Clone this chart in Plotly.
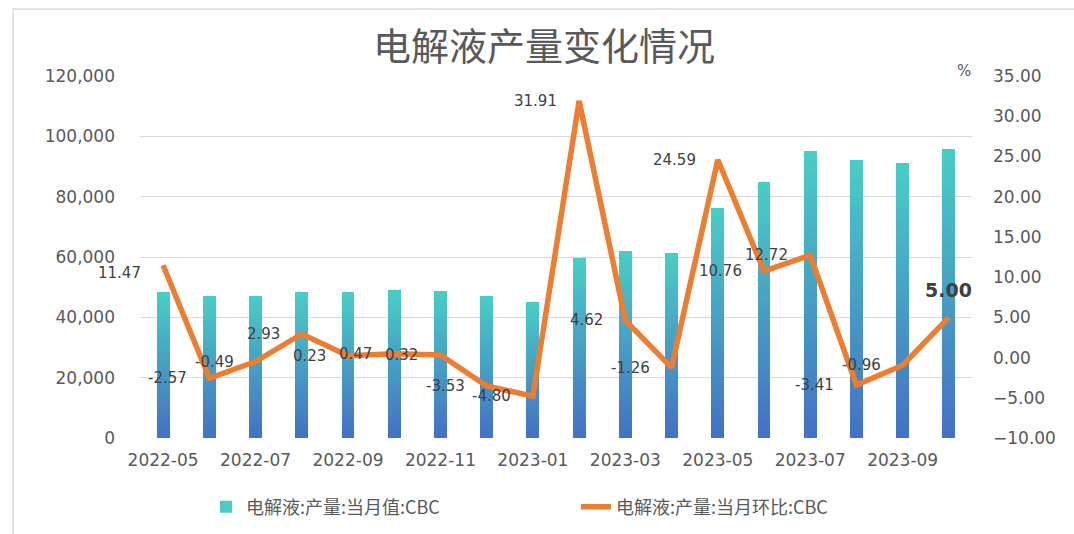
import plotly.graph_objects as go

months = ["2022-05", "2022-06", "2022-07", "2022-08", "2022-09", "2022-10",
          "2022-11", "2022-12", "2023-01", "2023-02", "2023-03", "2023-04",
          "2023-05", "2023-06", "2023-07", "2023-08", "2023-09", "2023-10"]
output = [48400, 47200, 47200, 48400, 48300, 49100, 48700, 47200, 45100,
          59700, 62000, 61400, 76200, 84700, 95300, 92100, 91000, 95800]
mom = [11.47, -2.57, -0.49, 2.93, 0.23, 0.47, 0.32, -3.53, -4.80,
       31.91, 4.62, -1.26, 24.59, 10.76, 12.72, -3.41, -0.96, 5.00]
tick_months = months[::2]

bar_name = "电解液:产量:当月值:CBC"
line_name = "电解液:产量:当月环比:CBC"
title = "电解液产量变化情况"

FONT = "DejaVu Sans"
CJK = "Noto Sans CJK SC"
GREY = "#595959"

top_rgb = (72, 204, 198)
bot_rgb = (68, 114, 196)
N = 30

fig = go.Figure()
for k in range(N):
    t = k / (N - 1)
    c = tuple(round(bot_rgb[i] + (top_rgb[i] - bot_rgb[i]) * t) for i in range(3))
    fig.add_trace(go.Bar(
        x=months, y=[v / N for v in output],
        marker=dict(color="rgb(%d,%d,%d)" % c, line=dict(width=0)),
        width=0.28, name=bar_name, showlegend=(k == N - 1),
        legendrank=1, hoverinfo="skip", yaxis="y"))

fig.add_trace(go.Scatter(
    x=months, y=mom, mode="lines", name=line_name,
    line=dict(color="#ED7D31", width=5.5), yaxis="y2", legendrank=2,
    hoverinfo="skip"))

# data labels
for i, (m, v) in enumerate(zip(months, mom)):
    if i == len(months) - 1:
        fig.add_annotation(x=m, y=v, xref="x", yref="y2", text="<b>%.2f</b>" % v,
                           showarrow=False, xanchor="center", yanchor="bottom",
                           yshift=14, font=dict(family=FONT, size=19, color="#404040"))
    else:
        fig.add_annotation(x=m, y=v, xref="x", yref="y2", text="%.2f" % v,
                           showarrow=False, xanchor="right", yanchor="middle",
                           xshift=-20, yshift=(-8 if i == 0 else 0),
                           font=dict(family=FONT, size=15, color="#404040"))

fig.add_annotation(x=1.001, y=1.044, xref="paper", yref="paper", text="%",
                   showarrow=False, font=dict(family=FONT, size=15, color=GREY))

# chart border (left and top edges visible)
fig.add_shape(type="rect", xref="paper", yref="paper",
              x0=-0.1526, x1=1.2, y0=-0.35, y1=1.185,
              line=dict(color="#D9D9D9", width=1.5), fillcolor="rgba(0,0,0,0)",
              layer="below")

fig.update_layout(
    width=1074, height=534,
    margin=dict(l=140, r=102, t=76, b=96),
    paper_bgcolor="white", plot_bgcolor="white",
    barmode="stack", bargap=0.72,
    title=dict(text=title, x=0.5065, xanchor="center", y=1 - 47 / 534,
               yref="container", yanchor="middle",
               font=dict(family=CJK, size=38, color=GREY)),
    xaxis=dict(type="category", categoryorder="array", categoryarray=months,
               range=[-0.5, len(months) - 0.5], autorange=False,
               tickvals=tick_months, ticktext=tick_months, showgrid=False,
               showline=False, ticks="", ticklabelstandoff=10,
               tickfont=dict(family=FONT, size=17, color=GREY)),
    yaxis=dict(range=[0, 120000], dtick=20000, tickformat=",", showgrid=True,
               gridcolor="#D9D9D9", gridwidth=1.2, zeroline=False, showline=False,
               ticks="", ticklabelstandoff=24,
               tickfont=dict(family=FONT, size=17, color=GREY)),
    yaxis2=dict(range=[-10, 35], dtick=5, tickformat=".2f", overlaying="y",
                side="right", showgrid=False, zeroline=False, showline=False,
                ticks="", ticklabelstandoff=20,
                tickfont=dict(family=FONT, size=17, color=GREY)),
    legend=dict(orientation="h", x=0.524, xanchor="center",
                yref="container", y=1 - 507 / 534, yanchor="middle",
                font=dict(family=CJK, size=18, color=GREY),
                traceorder="normal", entrywidth=325, entrywidthmode="pixels"),
    showlegend=True,
)

fig.write_html("out.html", config={"displayModeBar": False},
               post_script="document.body.style.margin='0';document.body.style.overflow='hidden';")
